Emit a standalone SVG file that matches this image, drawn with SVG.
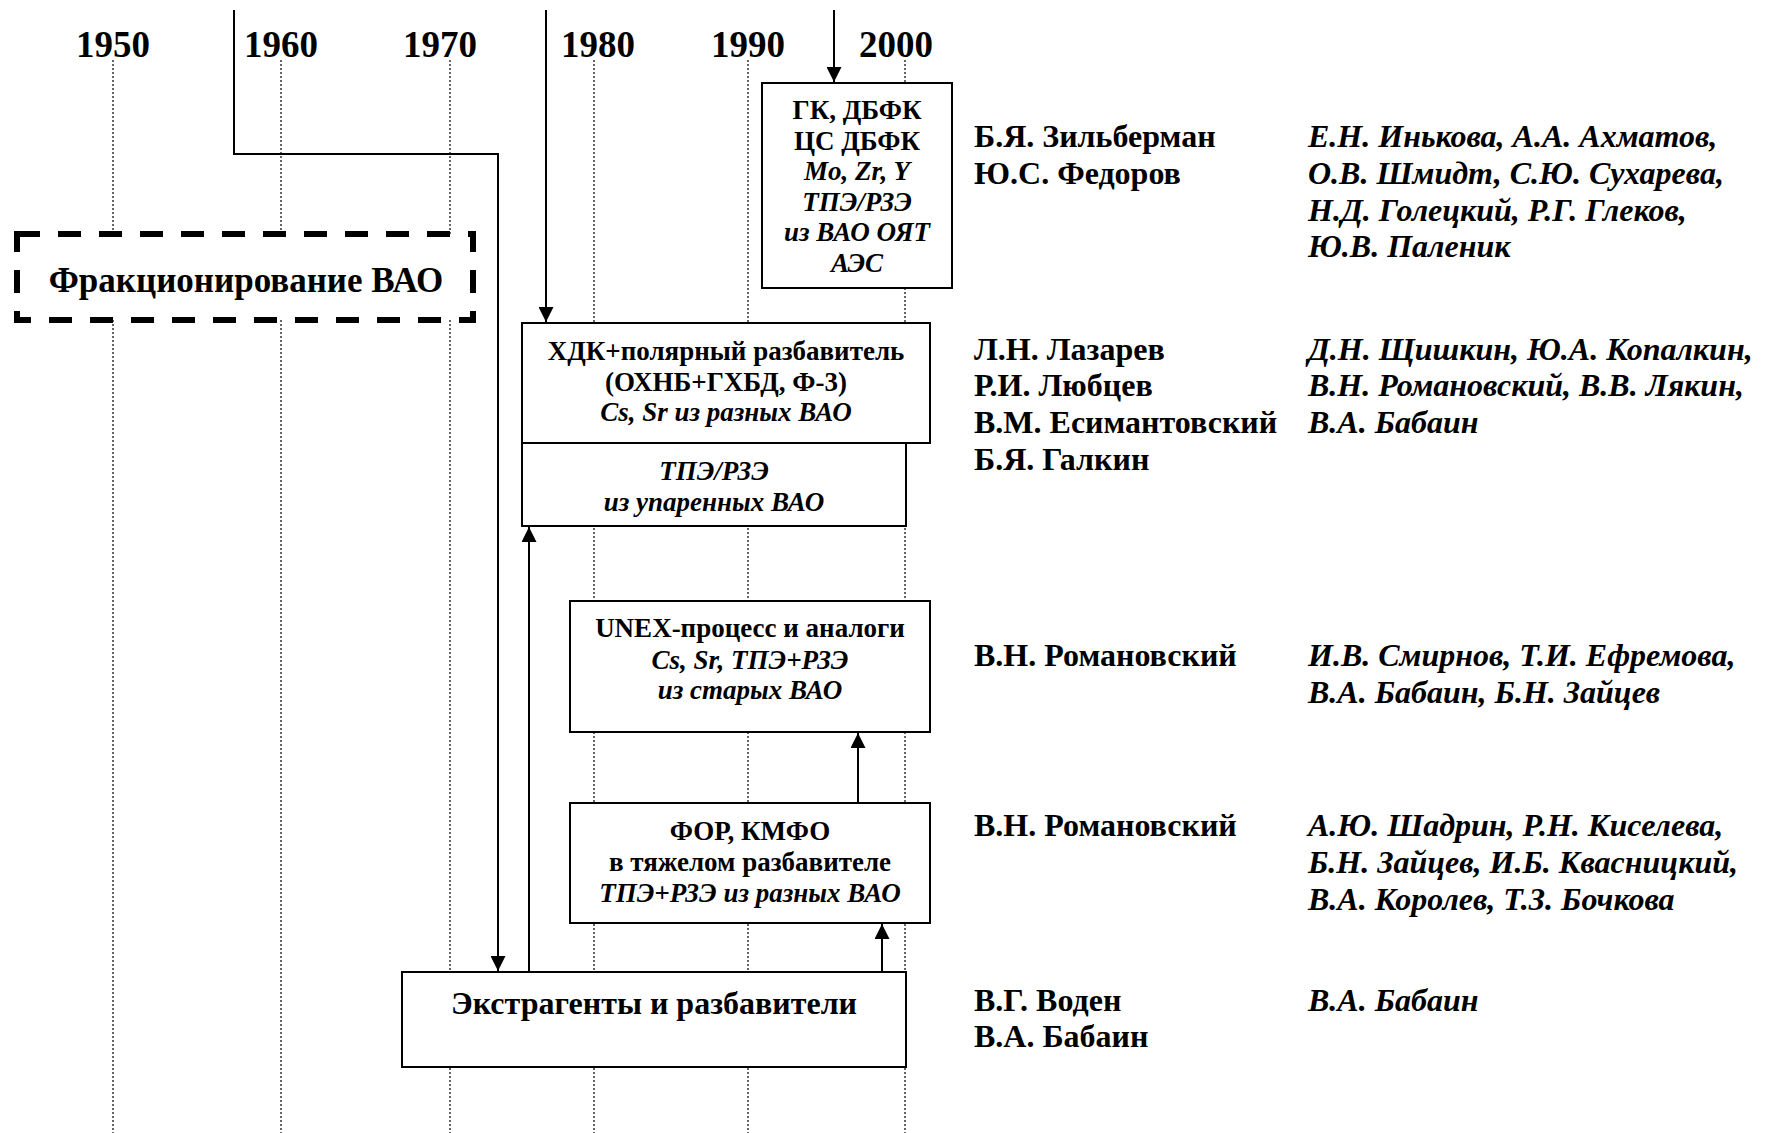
<svg xmlns="http://www.w3.org/2000/svg" width="1765" height="1133" viewBox="0 0 1765 1133">
<defs>
<style>
text{font-family:"Liberation Serif","Times New Roman",serif;font-weight:bold;fill:#000}
.yr{font-size:37px;text-anchor:middle}
.bx{font-size:27px;text-anchor:middle}
.it{font-style:italic}
.nm{font-size:32px}
.grid{stroke:#333;stroke-width:1.5;stroke-dasharray:2 2;fill:none}
.box{fill:#fff;stroke:#000;stroke-width:2}
.con{stroke:#000;stroke-width:2;fill:none}
</style>
<marker id="ah" viewBox="0 0 10 10" refX="10" refY="5" markerWidth="15" markerHeight="15" markerUnits="userSpaceOnUse" orient="auto">
<path d="M0,0 L10,5 L0,10 Z" fill="#000"/>
</marker>
</defs>
<rect width="1765" height="1133" fill="#fff"/>
<g id="timeline">
<text class="yr" x="113" y="57">1950</text>
<text class="yr" x="281" y="57">1960</text>
<text class="yr" x="440" y="57">1970</text>
<text class="yr" x="598" y="57">1980</text>
<text class="yr" x="748" y="57">1990</text>
<text class="yr" x="896" y="57">2000</text>
<path class="grid" d="M113,60V1133M281,60V1133M450,60V1133M594,60V1133M748,60V1133M905,60V1133"/>
</g>
<g id="connectors">
<path class="con" d="M234,10V154H498V971" marker-end="url(#ah)"/>
<path class="con" d="M546,10V322" marker-end="url(#ah)"/>
<path class="con" d="M834,10V82" marker-end="url(#ah)"/>
<path class="con" d="M529,972V527" marker-end="url(#ah)"/>
<path class="con" d="M858,803V733" marker-end="url(#ah)"/>
<path class="con" d="M882,972V924" marker-end="url(#ah)"/>
</g>
<g id="node-fract">
<rect x="17" y="234" width="456" height="86" fill="#fff" stroke="#000" stroke-width="6" stroke-dasharray="23 18"/>
<text x="246" y="292" font-size="35" text-anchor="middle">Фракционирование ВАО</text>
</g>
<g id="node-gk">
<rect class="box" x="762" y="83" width="190" height="205"/>
<text class="bx" x="857" y="119">ГК, ДБФК</text>
<text class="bx" x="857" y="150">ЦС ДБФК</text>
<text class="bx it" x="857" y="180">Mo, Zr, Y</text>
<text class="bx it" x="857" y="211">ТПЭ/РЗЭ</text>
<text class="bx it" x="857" y="241">из ВАО ОЯТ</text>
<text class="bx it" x="857" y="272">АЭС</text>
</g>
<g id="node-hdk">
<rect class="box" x="522" y="323" width="408" height="120"/>
<text class="bx" x="726" y="360">ХДК+полярный разбавитель</text>
<text class="bx" x="726" y="391">(ОХНБ+ГХБД, Ф-3)</text>
<text class="bx it" x="726" y="421">Cs, Sr из разных ВАО</text>
</g>
<g id="node-tpe">
<rect class="box" x="522" y="443" width="384" height="83"/>
<text class="bx it" x="714" y="480">ТПЭ/РЗЭ</text>
<text class="bx it" x="714" y="511">из упаренных ВАО</text>
</g>
<g id="node-unex">
<rect class="box" x="570" y="601" width="360" height="131"/>
<text class="bx" x="750" y="637">UNEX-процесс и аналоги</text>
<text class="bx it" x="750" y="669">Cs, Sr, ТПЭ+РЗЭ</text>
<text class="bx it" x="750" y="699">из старых ВАО</text>
</g>
<g id="node-for">
<rect class="box" x="570" y="803" width="360" height="120"/>
<text class="bx" x="750" y="840">ФОР, КМФО</text>
<text class="bx" x="750" y="871">в тяжелом разбавителе</text>
<text class="bx it" x="750" y="902">ТПЭ+РЗЭ из разных ВАО</text>
</g>
<g id="node-extr">
<rect class="box" x="402" y="972" width="504" height="95"/>
<text x="654" y="1014" font-size="32" text-anchor="middle">Экстрагенты и разбавители</text>
</g>
<g id="authors">
<text class="nm" x="974" y="147">Б.Я. Зильберман</text>
<text class="nm" x="974" y="184">Ю.С. Федоров</text>
<text class="nm it" x="1308" y="147">Е.Н. Инькова, А.А. Ахматов,</text>
<text class="nm it" x="1308" y="184">О.В. Шмидт, С.Ю. Сухарева,</text>
<text class="nm it" x="1308" y="221">Н.Д. Голецкий, Р.Г. Глеков,</text>
<text class="nm it" x="1308" y="257">Ю.В. Паленик</text>
<text class="nm" x="974" y="360">Л.Н. Лазарев</text>
<text class="nm" x="974" y="396">Р.И. Любцев</text>
<text class="nm" x="974" y="433">В.М. Есимантовский</text>
<text class="nm" x="974" y="470">Б.Я. Галкин</text>
<text class="nm it" x="1308" y="360">Д.Н. Щишкин, Ю.А. Копалкин,</text>
<text class="nm it" x="1308" y="396">В.Н. Романовский, В.В. Лякин,</text>
<text class="nm it" x="1308" y="433">В.А. Бабаин</text>
<text class="nm" x="974" y="666">В.Н. Романовский</text>
<text class="nm it" x="1308" y="666">И.В. Смирнов, Т.И. Ефремова,</text>
<text class="nm it" x="1308" y="703">В.А. Бабаин, Б.Н. Зайцев</text>
<text class="nm" x="974" y="836">В.Н. Романовский</text>
<text class="nm it" x="1308" y="836">А.Ю. Шадрин, Р.Н. Киселева,</text>
<text class="nm it" x="1308" y="873">Б.Н. Зайцев, И.Б. Квасницкий,</text>
<text class="nm it" x="1308" y="910">В.А. Королев, Т.З. Бочкова</text>
<text class="nm" x="974" y="1011">В.Г. Воден</text>
<text class="nm" x="974" y="1047">В.А. Бабаин</text>
<text class="nm it" x="1308" y="1011">В.А. Бабаин</text>
</g>
</svg>
